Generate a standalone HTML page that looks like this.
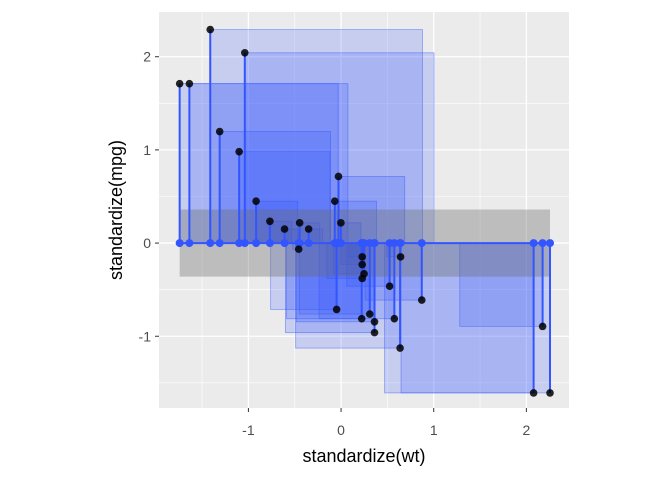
<!DOCTYPE html>
<html><head><meta charset="utf-8"><style>
body{margin:0;background:#fff;font-family:"Liberation Sans",sans-serif}
</style></head><body>
<svg id="c" width="672" height="480" xmlns="http://www.w3.org/2000/svg"></svg>
<script>
const wt=[-0.610,-0.350,-0.917,-0.002,0.228,0.248,0.361,-0.028,-0.068,0.228,0.228,0.871,0.524,0.575,2.078,2.255,2.175,-1.039,-1.637,-1.412,-0.768,0.310,0.223,0.637,0.642,-1.310,-1.100,-1.742,-0.048,-0.457,0.361,-0.447];
const mpg=[0.151,0.151,0.450,0.217,-0.231,-0.330,-0.961,0.715,0.450,-0.148,-0.380,-0.612,-0.463,-0.812,-1.608,-1.608,-0.894,2.042,1.711,2.291,0.234,-0.762,-0.812,-1.127,-0.148,1.197,0.981,1.711,-0.712,-0.065,-0.845,0.217];
const xTicks=[-1,0,1,2];
const yTicks=[-1,0,1,2];
const band=[-0.36,0.36];
const L=159,R=569,T=12,B=408,xmin=-1.965,xmax=2.46,ymin=-1.77,ymax=2.48;
const X=v=>L+(v-xmin)/(xmax-xmin)*(R-L);
const Y=v=>B-(v-ymin)/(ymax-ymin)*(B-T);
const svg=document.getElementById('c');
function mk(t,a,p){const e=document.createElementNS('http://www.w3.org/2000/svg',t);for(const k in a)e.setAttribute(k,a[k]);(p||svg).appendChild(e);return e;}
const panel=mk('rect',{x:L,y:T,width:R-L,height:B-T,fill:'#EBEBEB'});


xTicks.forEach(t=>{const m=mk('line',{x1:X(t-0.5),x2:X(t-0.5),y1:T,y2:B,stroke:'#fff','stroke-width':0.6});});
mk('line',{x1:X(2.5),x2:X(2.5),y1:T,y2:B,stroke:'#fff','stroke-width':0.6});
yTicks.forEach(t=>{const m=mk('line',{y1:Y(t-0.5),y2:Y(t-0.5),x1:L,x2:R,stroke:'#fff','stroke-width':0.6});});
xTicks.forEach(t=>{const g=mk('line',{x1:X(t),x2:X(t),y1:T,y2:B,stroke:'#fff','stroke-width':1.3});
const tx=mk('text',{x:X(t),y:B+27,'text-anchor':'middle','font-size':14,fill:'#4D4D4D'});tx.textContent=t;
mk('line',{x1:X(t),x2:X(t),y1:B,y2:B+4,stroke:'#333'});});
yTicks.forEach(t=>{const g=mk('line',{y1:Y(t),y2:Y(t),x1:L,x2:R,stroke:'#fff','stroke-width':1.3});
const tx=mk('text',{x:L-8,y:Y(t)+5,'text-anchor':'end','font-size':14,fill:'#4D4D4D'});tx.textContent=t;
mk('line',{y1:Y(t),y2:Y(t),x1:L-4,x2:L,stroke:'#333'});});
const xs=Math.min(...wt),xe=Math.max(...wt);
wt.forEach((x,i)=>{const y=mpg[i];const x0=Math.min(x,x+y),x1=Math.max(x,x+y);
const s=mk('rect',{x:X(x0),y:Y(Math.max(0,y)),width:X(x1)-X(x0),height:Math.abs(Y(y)-Y(0)),fill:'#3355FF','fill-opacity':0.2,stroke:'#3355FF','stroke-opacity':0.5,'stroke-width':0.8});
});
const br=mk('rect',{x:X(xs),y:Y(band[1]),width:X(xe)-X(xs),height:Y(band[0])-Y(band[1]),fill:'#666','fill-opacity':0.35});

const bl=mk('line',{x1:X(xs),x2:X(xe),y1:Y(0),y2:Y(0),stroke:'#3355FF','stroke-width':2});

wt.forEach((x,i)=>{const sg=mk('line',{x1:X(x),x2:X(x),y1:Y(0),y2:Y(mpg[i]),stroke:'#3355FF','stroke-width':2});

const bp=mk('circle',{cx:X(x),cy:Y(0),r:4,fill:'#3355FF'});});
wt.forEach((x,i)=>{const p=mk('circle',{cx:X(x),cy:Y(mpg[i]),r:3.8,fill:'#000','fill-opacity':0.85});});
const xt=mk('text',{x:(L+R)/2,y:462,'text-anchor':'middle','font-size':18,fill:'#000'});xt.textContent='standardize(wt)';
const yt=mk('text',{x:0,y:0,'text-anchor':'middle','font-size':18,fill:'#000',transform:`translate(122,${(T+B)/2}) rotate(-90)`});yt.textContent='standardize(mpg)';
</script>
</body></html>
